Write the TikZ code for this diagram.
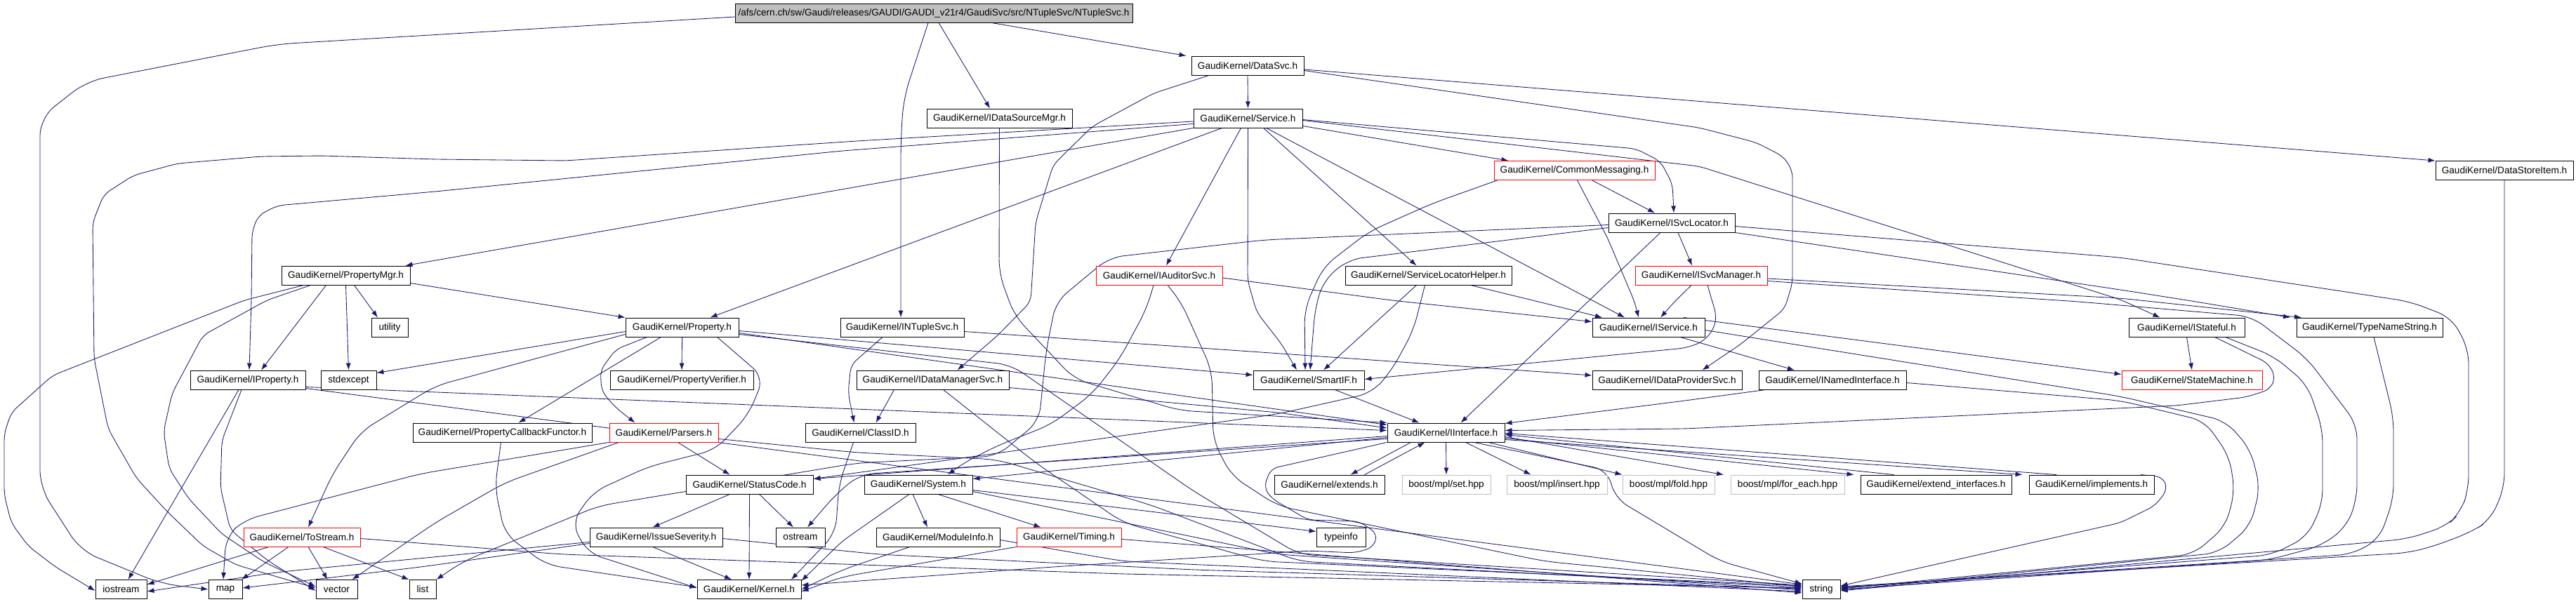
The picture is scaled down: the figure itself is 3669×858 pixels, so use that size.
\documentclass[tikz,border=0pt]{standalone}
\usepackage{fontspec}
\setmainfont{Liberation Sans}
\usetikzlibrary{arrows.meta}
\definecolor{edgec}{RGB}{25,25,112}
\definecolor{rootf}{RGB}{191,191,191}
\definecolor{boostc}{RGB}{191,191,191}
\pgfdeclarelayer{bg}
\pgfdeclarelayer{edgelayer}
\pgfsetlayers{bg,edgelayer,main}
\tikzset{
  nb/.style={draw=black, fill=white, line width=0.9pt, minimum height=27pt, inner sep=0pt, font=\fontsize{13.6}{16}\selectfont},
  rb/.style={nb, draw=red},
  gb/.style={nb, draw=boostc},
  rootb/.style={nb, fill=rootf},
  e/.style={draw=edgec, line width=0.85pt, -{Latex[length=10pt,width=7pt]}},
  ec/.style={e, rounded corners=10pt},
}
\begin{document}
\begin{tikzpicture}[x=1pt,y=-1pt]
\useasboundingbox (0,0) rectangle (3669,858);
\begin{pgfonlayer}{bg}
\fill[white] (0,0) rectangle (3669,858);
\end{pgfonlayer}
% row 1
\node[rootb, minimum width=566pt] (root) at (1330,18.5) {/afs/cern.ch/sw/Gaudi/releases/GAUDI/GAUDI\_v21r4/GaudiSvc/src/NTupleSvc/NTupleSvc.h};
% row 2
\node[nb, minimum width=160pt] (DataSvc) at (1777,93.5) {GaudiKernel/DataSvc.h};
% row 3
\node[nb, minimum width=207pt] (idsm) at (1423.5,168.5) {GaudiKernel/IDataSourceMgr.h};
\node[nb, minimum width=155pt] (svc) at (1777.5,168.5) {GaudiKernel/Service.h};
% row 4
\node[rb, minimum width=229pt] (cm) at (2242.5,243) {GaudiKernel/CommonMessaging.h};
\node[nb, minimum width=196pt] (dsi) at (3567,243) {GaudiKernel/DataStoreItem.h};
% row 5
\node[nb, minimum width=180pt] (isl) at (2381,317.5) {GaudiKernel/ISvcLocator.h};
% row 6
\node[nb, minimum width=183pt] (pmgr) at (492.5,392.5) {GaudiKernel/PropertyMgr.h};
\node[rb, minimum width=180pt] (ias) at (1651,392.5) {GaudiKernel/IAuditorSvc.h};
\node[nb, minimum width=237pt] (slh) at (2034.5,392.5) {GaudiKernel/ServiceLocatorHelper.h};
\node[rb, minimum width=188pt] (ism) at (2423,392.5) {GaudiKernel/ISvcManager.h};
% row 7
\node[nb, minimum width=52pt] (utility) at (555,466.5) {utility};
\node[nb, minimum width=161pt] (prop) at (971.5,466.5) {GaudiKernel/Property.h};
\node[nb, minimum width=176pt] (nts) at (1285,466.5) {GaudiKernel/INTupleSvc.h};
\node[nb, minimum width=160pt] (isv) at (2348,466.5) {GaudiKernel/IService.h};
\node[nb, minimum width=165pt] (ist) at (3114.5,466.5) {GaudiKernel/IStateful.h};
\node[nb, minimum width=208pt] (tns) at (3375,466.5) {GaudiKernel/TypeNameString.h};
% row 8
\node[nb, minimum width=164pt] (iprop) at (353,541.5) {GaudiKernel/IProperty.h};
\node[nb, minimum width=79pt] (stdexcept) at (496.5,541.5) {stdexcept};
\node[nb, minimum width=204pt] (pver) at (971,541.5) {GaudiKernel/PropertyVerifier.h};
\node[nb, minimum width=217pt] (idms) at (1328.5,541.5) {GaudiKernel/IDataManagerSvc.h};
\node[nb, minimum width=158pt] (sif) at (1864,541.5) {GaudiKernel/SmartIF.h};
\node[nb, minimum width=213pt] (idps) at (2374.5,541.5) {GaudiKernel/IDataProviderSvc.h};
\node[nb, minimum width=210pt] (inm) at (2610,541.5) {GaudiKernel/INamedInterface.h};
\node[rb, minimum width=200pt] (sm) at (3122,541.5) {GaudiKernel/StateMachine.h};
% row 9
\node[nb, minimum width=255pt] (pcf) at (715.5,616.5) {GaudiKernel/PropertyCallbackFunctor.h};
\node[rb, minimum width=155pt] (pars) at (945.5,616.5) {GaudiKernel/Parsers.h};
\node[nb, minimum width=157pt] (cid) at (1225.5,616.5) {GaudiKernel/ClassID.h};
\node[nb, minimum width=167pt] (ii) at (2059.5,616.5) {GaudiKernel/IInterface.h};
% row 10
\node[nb, minimum width=181pt] (sc) at (1067.5,690.5) {GaudiKernel/StatusCode.h};
\node[nb, minimum width=154pt] (sys) at (1308,690.5) {GaudiKernel/System.h};
\node[nb, minimum width=157pt] (ext) at (1893.5,690.5) {GaudiKernel/extends.h};
\node[gb, minimum width=126pt] (set) at (2060,690.5) {boost/mpl/set.hpp};
\node[gb, minimum width=143pt] (insert) at (2217.5,690.5) {boost/mpl/insert.hpp};
\node[gb, minimum width=131pt] (fold) at (2376.5,690.5) {boost/mpl/fold.hpp};
\node[gb, minimum width=162pt] (foreach) at (2546,690.5) {boost/mpl/for\_each.hpp};
\node[nb, minimum width=215pt] (extif) at (2757.5,690.5) {GaudiKernel/extend\_interfaces.h};
\node[nb, minimum width=178pt] (impl) at (2979,690.5) {GaudiKernel/implements.h};
% row 11
\node[rb, minimum width=166pt] (tos) at (430,765.5) {GaudiKernel/ToStream.h};
\node[nb, minimum width=189pt] (isev) at (934.5,765.5) {GaudiKernel/IssueSeverity.h};
\node[nb, minimum width=70pt] (ostream) at (1140,765.5) {ostream};
\node[nb, minimum width=176pt] (mi) at (1336,765.5) {GaudiKernel/ModuleInfo.h};
\node[rb, minimum width=149pt] (tim) at (1522.5,765.5) {GaudiKernel/Timing.h};
\node[nb, minimum width=70pt] (typeinfo) at (1910,765.5) {typeinfo};
% row 12
\node[nb, minimum width=73pt] (iostream) at (172.5,840) {iostream};
\node[nb, minimum width=48pt] (map) at (321,840) {map};
\node[nb, minimum width=59pt] (vector) at (479.5,840) {vector};
\node[nb, minimum width=38pt] (list) at (602,840) {list};
\node[nb, minimum width=148pt] (Kernel) at (1067,840) {GaudiKernel/Kernel.h};
\node[nb, minimum width=54pt] (string) at (2594,840) {string};

\begin{pgfonlayer}{edgelayer}
% root
\draw[ec,rounded corners=25pt] ([yshift=-5.5pt]root.west) -- (395,63) -- (123,116) -- (57,168) -- (57,695) -- (115,785) -- (230,832) -- (map.west);
\draw[e] ([xshift=7pt]root.south) -- ([xshift=-13.5pt]idsm.north);
\draw[ec,rounded corners=25pt] ([xshift=-8pt]root.south) -- (1287,140) -- (1283,200) -- ([xshift=-2pt]nts.north);
\draw[e] ([xshift=82pt]root.south) -- ([xshift=-7pt]DataSvc.north west);
% DataSvc
\draw[e] (DataSvc.south) -- (svc.north);
\draw[e] ([yshift=-5.5pt]DataSvc.east) -- (dsi.north west);
\draw[ec] ([yshift=-7pt]DataSvc.east) -- (2420,182) -- (2501,203) -- (2540,223) -- (2553,243) -- (2553,403) -- (2542,440) -- (2480,490) -- ([xshift=50pt]idps.north);
\draw[ec] ([xshift=-55pt]DataSvc.south) -- (1643,133) -- (1556,180) -- (1500,235) -- (1475,317) -- (1468,430) -- (1421,478) -- ([xshift=35pt]idms.north);
% Service
\draw[ec] ([yshift=-4.5pt]svc.west) -- (1220,201) -- (806,229) -- (620,227) -- (459,222) -- (372,223) -- (253,233) -- (190,250) -- (148,277) -- (132,317) -- (134,511) -- (154,611) -- (194,681) -- (237,728) -- (289,778) -- (336,805) -- ([yshift=2pt]vector.west);
\draw[ec] ([yshift=-8pt]svc.west) -- (1200,215) -- (620,273) -- (395,293) -- (368,307) -- (359,330) -- (358,428) -- ([xshift=2pt]iprop.north);
\draw[e] (svc.south west) -- ([xshift=-7pt]pmgr.north east);
\draw[e] ([xshift=-37pt]svc.south) -- ([xshift=40pt]prop.north);
\draw[e] ([xshift=-10pt]svc.south) -- ([xshift=10pt]ias.north);
\draw[ec] (svc.south) -- (1777,400) -- (1790,445) -- (1825,490) -- ([xshift=-17pt]sif.north);
\draw[e] ([xshift=22pt]svc.south) -- ([xshift=-17pt]slh.north);
\draw[e] ([xshift=26pt]svc.south) -- ([xshift=-34pt]isv.north);
\draw[e] ([yshift=-11pt]svc.east) -- ([xshift=-94pt]cm.north);
\draw[ec] ([yshift=-2pt]svc.east) -- (2330,212) -- (2365,230) -- (2382,262) -- ([xshift=3pt]isl.north);
\draw[ec] ([yshift=-3pt]svc.east) -- (2420,237) -- (3020,427) -- ([xshift=-38pt]ist.north);
% CommonMessaging
\draw[e] ([xshift=25pt]cm.south) -- ([xshift=-24pt]isl.north);
\draw[ec,rounded corners=20pt] ([xshift=-110pt]cm.south) -- (2040,290) -- (1950,330) -- (1885,380) -- (1858,440) -- ([xshift=-5pt]sif.north);
\draw[ec] ([xshift=4pt]cm.south) -- (2290,340) -- (2328,430) -- ([xshift=-14pt]isv.north);
% ISvcLocator
\draw[e] ([xshift=9pt]isl.south) -- ([xshift=-13pt]ism.north);
\draw[e] ([xshift=-16pt]isl.south) -- ([xshift=21pt]ii.north);
\draw[ec,rounded corners=20pt] ([yshift=-7pt]isl.west) -- (1920,370) -- (1885,400) -- (1873,440) -- ([xshift=2pt]sif.north);
\draw[ec,rounded corners=20pt] ([yshift=-3pt]isl.west) -- (1800,342) -- (1580,367) -- (1504,430) -- (1490,500) -- (1480,600) -- (1420,650) -- (1220,660) -- (853,721) -- (660,800) -- (list.north east);
\draw[ec,rounded corners=20pt] ([yshift=-5pt]isl.east) -- (3020,367) -- (3433,430) -- (3492,453) -- (3516,498) -- (3516,698) -- (3504,731) -- (3484,750) -- (3429,768) -- ([yshift=-2pt]string.east);
\draw[ec,rounded corners=20pt] ([yshift=-14pt]isl.east) -- (3020,413) -- (3128,430) -- ([xshift=-113pt]tns.north);
% ISvcManager
\draw[ec] ([xshift=-14pt]ism.south) -- (2385,430) -- ([xshift=17pt]isv.north);
\draw[ec] ([xshift=9pt]ism.south) -- (2445,451) -- (2440,471) -- (2424,488) -- (2400,496) -- ([yshift=1pt]sif.east);
\draw[ec,rounded corners=20pt] ([yshift=-4.5pt]ism.east) -- (3020,425) -- ([xshift=-97pt]tns.north);
\draw[ec,rounded corners=20pt] ([yshift=-8pt]ism.east) -- (2961,430) -- (3207,451) -- (3286,511) -- (3357,605) -- (3357,711) -- (3342,751) -- (3306,778) -- (3231,798) -- ([yshift=0pt]string.east);
% IAuditorSvc
\draw[ec] ([yshift=-3.5pt]ias.east) -- (1982,428) -- ([yshift=8pt]isv.west);
\draw[ec,rounded corners=20pt] ([xshift=-8pt]ias.south) -- (1633,440) -- (1595,511) -- (1556,561) -- (1497,605) -- (1421,635) -- (1370,661) -- ([xshift=42pt]sys.north);
\draw[ec,rounded corners=20pt] ([xshift=12pt]ias.south) -- (1682,430) -- (1726,528) -- (1728,628) -- (1754,678) -- (1820,721) -- (2200,800) -- ([yshift=4pt]string.west);
% ServiceLocatorHelper
\draw[e] ([xshift=-17pt]slh.south) -- ([xshift=21pt]sif.north);
\draw[ec] ([xshift=60pt]slh.south) -- (2191,430) -- ([xshift=-66pt]isv.north);
\draw[ec,rounded corners=20pt] ([xshift=-5pt]slh.south) -- (2013,471) -- (1982,528) -- (1954,560) -- (1820,590) -- ([yshift=8pt]sc.east);
% IService
\draw[e] ([xshift=45pt]isv.south) -- ([xshift=-54pt]inm.north);
\draw[e] ([xshift=50pt]isv.north) -- ([yshift=8pt]sm.west);
\draw[ec,rounded corners=20pt] ([yshift=-4pt]isv.east) -- (3020,565) -- (3170,600) -- (3205,640) -- (3219,695) -- (3205,750) -- (3160,788) -- ([yshift=-1pt]string.east);
% INamedInterface
\draw[ec] ([xshift=-95pt]inm.south) -- (2400,571) -- ([yshift=13pt]ii.east);
\draw[ec,rounded corners=20pt] ([yshift=-4pt]inm.east) -- (3020,571) -- (3140,600) -- (3175,650) -- (3183,700) -- (3170,750) -- (3124,790) -- ([yshift=1pt]string.east);
% IStateful
\draw[e] (ist.south) -- (sm.north);
\draw[ec] ([xshift=40pt]ist.south) -- (3231,518) -- (3241,538) -- (3233,555) -- (3199,566) -- (3100,578) -- (2400,611) -- ([yshift=3pt]ii.east);
\draw[ec,rounded corners=20pt] ([xshift=55pt]ist.south) -- (3239,508) -- (3286,548) -- (3308,611) -- (3308,718) -- (3286,765) -- (3235,791) -- ([yshift=2pt]string.east);
% TypeNameString, DataStoreItem
\draw[ec,rounded corners=20pt] ([xshift=6pt]tns.south) -- (3409,595) -- (3409,711) -- (3389,768) -- (3350,790) -- ([yshift=3pt]string.east);
\draw[ec,rounded corners=20pt] (dsi.south) -- (3567,695) -- (3547,741) -- (3520,758) -- (3468,778) -- (3429,788) -- ([yshift=4pt]string.east);
% INTupleSvc
\draw[e] ([yshift=-6pt]nts.east) -- ([yshift=6.5pt]idps.west);
\draw[ec] ([xshift=-28pt]nts.south) -- (1212,520) -- (1208,560) -- ([xshift=-9pt]cid.north);
% IDataManagerSvc
\draw[e] ([xshift=-55pt]idms.south) -- ([xshift=22pt]cid.north);
\draw[ec] ([yshift=-11pt]idms.east) -- (1820,588) -- ([yshift=6.5pt]ii.west);
\draw[ec,rounded corners=20pt] ([xshift=15pt]idms.south) -- (1477,661) -- (1600,745) -- (1800,800) -- ([yshift=5pt]string.west);
% IDataSourceMgr
\draw[ec,rounded corners=20pt] (idsm.south) -- (1423,390) -- (1445,450) -- (1530,540) -- (1680,585) -- ([yshift=14pt]ii.west);
% SmartIF
\draw[e] ([xshift=37pt]sif.south) -- ([xshift=-38pt]ii.north);
% Property
\draw[e] (prop.south) -- (pver.north);
\draw[e] ([xshift=-30pt]prop.south) -- ([xshift=23pt]pcf.north);
\draw[ec] ([xshift=-50pt]prop.south) -- (877,498) -- (855,528) -- (857,558) -- (877,581) -- ([xshift=-41pt]pars.north);
\draw[ec,rounded corners=20pt] ([yshift=-10pt]prop.west) -- (620,550) -- (514,615) -- (474,675) -- ([xshift=9pt]tos.north);
\draw[e] ([yshift=-6pt]prop.west) -- ([yshift=10pt]stdexcept.east);
\draw[ec,rounded corners=20pt] ([xshift=50pt]prop.south) -- (1088,538) -- (1066,591) -- (1019,641) -- (924,665) -- (845,701) -- (814,745) -- (837,788) -- ([yshift=2pt]Kernel.west);
\draw[e] ([yshift=-5pt]prop.east) -- ([yshift=7pt]sif.west);
\draw[e] ([yshift=-8pt]prop.east) -- ([yshift=11pt]ii.west);
\draw[ec,rounded corners=20pt] ([yshift=-10pt]prop.east) -- (1440,520) -- (1700,700) -- (1850,790) -- ([yshift=6pt]string.west);
% PropertyMgr
\draw[ec] ([xshift=-60pt]pmgr.south) -- (348,428) -- (75,535) -- (16,588) -- (6,618) -- (6,705) -- (16,745) -- (40,778) -- (79,808) -- ([yshift=-2pt]iostream.west);
\draw[ec] ([xshift=-50pt]pmgr.south) -- (380,428) -- (289,478) -- (245,561) -- (233,615) -- (241,668) -- (269,711) -- (316,761) -- (376,801) -- ([yshift=4pt]vector.west);
\draw[e] ([xshift=-28pt]pmgr.south) -- ([xshift=19pt]iprop.north);
\draw[e] (pmgr.south) -- (stdexcept.north);
\draw[e] ([xshift=12pt]pmgr.south) -- ([xshift=-17pt]utility.north);
\draw[e] ([yshift=-11pt]pmgr.east) -- (prop.north west);
% IProperty
\draw[e] ([xshift=-13pt]iprop.south) -- ([xshift=10pt]iostream.north);
\draw[ec] ([xshift=-9pt]iprop.south) -- (316,628) -- (314,695) -- (328,755) -- (380,798) -- ([yshift=-2pt]vector.west);
\draw[e] ([yshift=-10pt]iprop.east) -- ([yshift=3pt]ii.west);
\draw[e] ([yshift=-12pt]iprop.east) -- ([yshift=7pt]string.west);
% ToStream
\draw[e] ([xshift=-47pt]tos.south) -- ([yshift=7pt]iostream.east);
\draw[e] ([xshift=-19pt]tos.south) -- ([xshift=23pt]map.north);
\draw[e] ([xshift=9pt]tos.south) -- ([xshift=-13pt]vector.north);
\draw[e] ([xshift=30pt]tos.south) -- (list.north west);
\draw[ec,rounded corners=20pt] ([yshift=-2pt]tos.east) -- (800,790) -- (1600,818) -- ([yshift=2pt]string.west);
% Parsers
\draw[e] ([xshift=20pt]pars.south) -- ([xshift=-28pt]sc.north);
\draw[ec,rounded corners=20pt] (pars.south west) -- (600,675) -- (348,741) -- (322,765) -- ([xshift=-3pt]map.north);
\draw[ec,rounded corners=20pt] ([xshift=-64pt]pars.south) -- (719,688) -- (620,745) -- ([xshift=22pt]vector.north);
\draw[ec,rounded corners=20pt] ([yshift=-9pt]pars.east) -- (1220,645) -- (1420,655) -- (1640,720) -- (1850,800) -- ([yshift=3pt]string.west);
% PropertyCallbackFunctor
\draw[ec,rounded corners=20pt] ([xshift=-2pt]pcf.south) -- (705,695) -- (719,761) -- (778,805) -- ([yshift=3pt]Kernel.west);
% StatusCode
\draw[e] ([xshift=-28pt]sc.south) -- ([xshift=-5pt]isev.north);
\draw[e] (sc.south) -- (Kernel.north);
\draw[e] ([xshift=14pt]sc.south) -- ([xshift=-10pt]ostream.north);
% IssueSeverity
\draw[e] ([xshift=-5pt]isev.south) -- ([xshift=-25pt]Kernel.north);
\draw[ec,rounded corners=20pt] ([yshift=-7pt]isev.west) -- (400,815) -- ([yshift=-3pt]iostream.east);
\draw[ec,rounded corners=20pt] ([yshift=-9pt]isev.west) -- (600,808) -- ([yshift=2pt]map.east);
\draw[ec,rounded corners=20pt] ([yshift=-2pt]isev.east) -- (1250,790) -- (1700,812) -- ([yshift=1pt]string.west);
% System
\draw[e] ([xshift=-8pt]sys.south) -- ([xshift=-15pt]mi.north);
\draw[e] ([xshift=28pt]sys.south) -- ([xshift=-40pt]tim.north);
\draw[ec] ([xshift=-13pt]sys.south) -- (1200,771) -- ([yshift=12pt]Kernel.east);
\draw[e] ([yshift=-8pt]sys.east) -- ([yshift=8pt]typeinfo.west);
\draw[ec,rounded corners=20pt] ([yshift=-10pt]sys.east) -- (1820,790) -- ([yshift=-1pt]string.west);
% ModuleInfo
\draw[ec,rounded corners=20pt] ([xshift=-40pt]mi.south) -- (1200,812) -- (Kernel.east);
\draw[ec,rounded corners=20pt] ([yshift=-4pt]mi.east) -- (1600,800) -- ([yshift=-3pt]string.west);
% Timing
\draw[ec,rounded corners=20pt] (tim.south west) -- (1200,822) -- ([yshift=-3pt]Kernel.east);
\draw[e] ([yshift=-3pt]tim.east) -- ([yshift=-5pt]string.west);
% ClassID
\draw[ec,rounded corners=20pt] ([xshift=-10pt]cid.south) -- (1195,690) -- (1190,760) -- ([xshift=60pt]Kernel.north);
% IInterface
\draw[e] ([yshift=-5pt]ii.west) -- ([yshift=8pt]sc.east);
\draw[e] ([yshift=-7pt]ii.west) -- ([yshift=8pt]sys.east);
\draw[ec,rounded corners=20pt] ([yshift=-9pt]ii.west) -- (1225,676) -- (1190,705) -- ([xshift=10pt]ostream.north);
\draw[ec] (ii.south west) -- (1810,668) -- (1800,695) -- (1812,711) -- (1863,741) -- (1936,743) -- (1962,761) -- (1956,780) -- (1930,788) -- (1863,785) -- (1500,808) -- ([yshift=6pt]Kernel.east);
\draw[e] ([xshift=-50pt]ii.south) -- ([xshift=30pt]ext.north);
\draw[e] ([xshift=50pt]ext.north) -- ([xshift=-30pt]ii.south);
\draw[e] (ii.south) -- (set.north);
\draw[e] ([xshift=28pt]ii.south) -- ([xshift=-37pt]insert.north);
\draw[e] ([xshift=60pt]ii.south) -- ([xshift=-66pt]fold.north);
\draw[e] ([yshift=-6pt]ii.east) -- ([xshift=-91pt]foreach.north);
\draw[e] ([yshift=-8pt]ii.east) -- ([xshift=-9pt]extif.north west);
\draw[e] ([xshift=-60pt]extif.north) -- ([yshift=-3pt]ii.east);
\draw[e] ([yshift=-10pt]ii.east) -- ([xshift=-9pt]impl.north west);
\draw[e] ([xshift=-50pt]impl.north) -- ([yshift=-1pt]ii.east);
\draw[ec,rounded corners=20pt] ([xshift=40pt]ii.south) -- (2290,670) -- (2300,710) -- (2450,800) -- ([yshift=8pt]string.west);
% implements -> string
\draw[ec] ([xshift=70pt]impl.north) -- (3081,680) -- (3087,698) -- (3069,721) -- (3020,745) -- ([yshift=5pt]string.east);
\end{pgfonlayer}
\end{tikzpicture}
\end{document}
